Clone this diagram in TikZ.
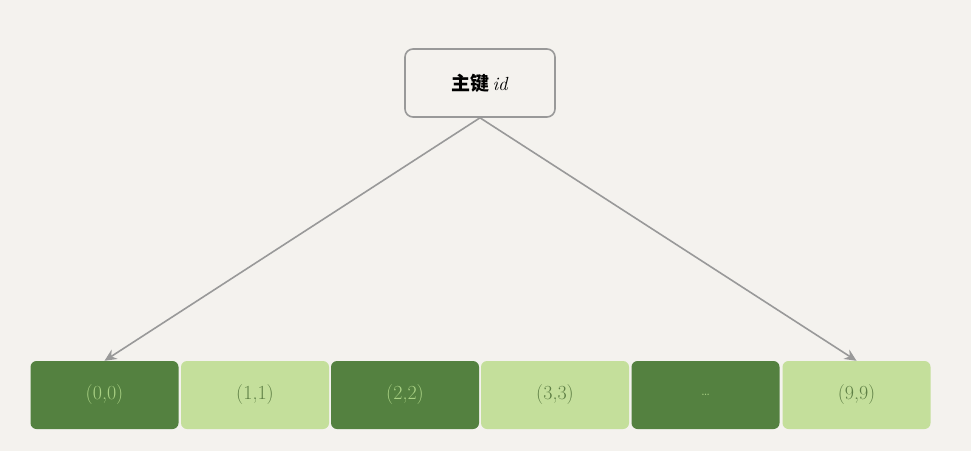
\documentclass[tikz,border=0pt]{standalone}
\usepackage{fontspec}
\newfontfamily\cjk{Noto Sans CJK SC}
\usetikzlibrary{arrows.meta}
\definecolor{bg}{HTML}{F4F2EE}
\definecolor{darkg}{HTML}{548140}
\definecolor{lightg}{HTML}{C4DF9B}
\definecolor{txtdark}{HTML}{A9D184}
\definecolor{txtlight}{HTML}{5E7F45}
\definecolor{edgegray}{HTML}{999999}
\tikzset{
  cell/.style={rounded corners=6pt, minimum width=148pt, minimum height=68pt, inner sep=0pt, font=\fontsize{20}{24}\selectfont},
  darkcell/.style={cell, fill=darkg, text=txtdark},
  lightcell/.style={cell, fill=lightg, text=txtlight},
  topbox/.style={draw=edgegray, line width=1.6pt, rounded corners=8pt, fill=bg, minimum width=150pt, minimum height=68pt, inner sep=0pt, font=\fontsize{19}{22}\selectfont},
  conn/.style={draw=edgegray, line width=1.6pt, -{Stealth[length=12pt,width=11pt]}}
}
\begin{document}
\begin{tikzpicture}[x=1pt,y=1pt]
\fill[bg] (0,0) rectangle (971,451);
\useasboundingbox (0,0) rectangle (971,451);
\node[topbox] (root) at (480,368) {{\cjk\bfseries 主键}\,\textit{id}};
\node[darkcell] (c0) at (104.5,56) {(0,0)};
\node[lightcell] (c1) at (255,56) {(1,1)};
\node[darkcell] (c2) at (405,56) {(2,2)};
\node[lightcell] (c3) at (555,56) {(3,3)};
\node[darkcell] (c4) at (705.5,56) {\fontsize{14}{16}\selectfont\dots};
\node[lightcell] (c5) at (856.5,56) {(9,9)};
\draw[conn] (root.south) -- (c0.north);
\draw[conn] (root.south) -- (c5.north);
\end{tikzpicture}
\end{document}
